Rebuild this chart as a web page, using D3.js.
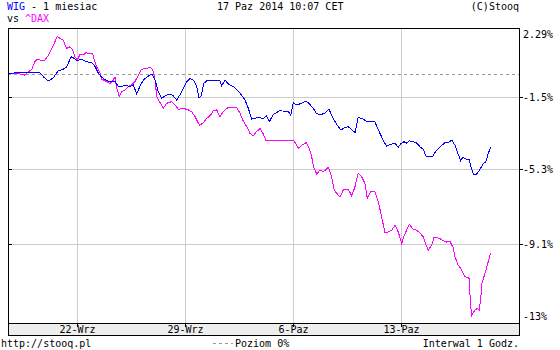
<!DOCTYPE html>
<html>
<head>
<meta charset="utf-8">
<script src="https://cdn.jsdelivr.net/npm/d3@7"></script>
<style>
body { margin: 0; background: #fff; }
text { font-family: 'DejaVu Sans Mono', monospace; font-size: 10px; }
</style>
</head>
<body>
<div id="chart"></div>
<script>
// x = trading days counted from Mon 22-Wrz (fraction = hour in session)
// y = change in %, log scale like stooq
const dayTicks = [0, 5, 10, 15];
const dayLabels = ['22-Wrz', '29-Wrz', '6-Paz', '13-Paz'];

const pctTicks = [2.29, -1.52, -5.34, -9.15, -13];
const pctLabels = ['2.29%', '-1.5%', '-5.3%', '-9.1%', '-13%'];

const wig = [
  [-3.13,-0.26],[-2.94,-0.21],[-2.62,-0.17],[-2.30,-0.19],[-2.02,-0.17],[-1.70,-0.19],
  [-1.54,-0.41],[-1.37,-0.59],[-1.23,-0.59],[-1.08,-0.46],[-0.85,-0.08],[-0.62,0.00],
  [-0.46,0.13],[-0.26,0.69],[-0.12,0.60],[0,0.47],[0.23,0.55],[0.46,0.42],[0.74,0.33],
  [0.85,0.14],[1.00,-0.22],[1.16,-0.44],[1.39,-0.63],[1.62,-0.68],[1.77,-0.64],
  [1.92,-0.95],[2.08,-0.95],[2.23,-0.86],[2.46,-0.95],[2.62,-0.86],[2.77,-1.35],
  [2.93,-0.91],[3.08,-0.59],[3.31,-0.37],[3.47,-0.26],[3.62,-0.59],[3.77,-1.22],
  [3.93,-1.58],[4.08,-1.45],[4.31,-1.35],[4.46,-1.45],[4.62,-1.67],[4.77,-1.40],
  [4.93,-1.04],[5.08,-0.68],[5.24,-0.50],[5.39,-0.59],[5.55,-0.95],[5.65,-1.53],
  [5.74,-1.49],[5.88,-0.77],[6.01,-0.63],[6.62,-0.63],[6.70,-0.91],[6.85,-0.59],
  [7.01,-0.81],[7.24,-0.95],[7.55,-1.31],[7.78,-1.67],[7.93,-2.12],[8.09,-2.70],
  [8.24,-2.66],[8.39,-2.61],[8.62,-2.66],[8.78,-2.53],[8.90,-2.84],[9.09,-2.44],
  [9.39,-2.25],[9.78,-2.30],[9.89,-2.48],[10.01,-1.82],[10.17,-1.94],[10.40,-1.85],
  [10.60,-1.72],[10.75,-1.88],[10.93,-2.12],[11.09,-2.42],[11.32,-2.44],[11.47,-2.39],
  [11.66,-2.17],[11.78,-2.48],[11.94,-2.84],[12.09,-3.11],[12.21,-3.28],[12.40,-3.14],
  [12.55,-3.11],[12.71,-3.25],[12.86,-3.42],[13.01,-2.61],[13.17,-2.66],[13.43,-2.84],
  [13.78,-2.84],[13.94,-3.28],[14.09,-3.63],[14.17,-3.86],[14.33,-4.13],[14.56,-4.02],
  [14.71,-3.99],[14.86,-4.20],[14.97,-4.02],[15.12,-3.90],[15.25,-3.97],[15.37,-3.85],
  [15.55,-3.90],[15.71,-3.97],[15.86,-4.16],[16.02,-4.30],[16.13,-4.65],[16.25,-4.69],
  [16.45,-4.69],[16.60,-4.38],[16.79,-4.17],[17.02,-3.95],[17.17,-3.95],[17.33,-3.81],
  [17.48,-4.08],[17.63,-4.55],[17.74,-4.90],[17.84,-4.72],[18.02,-4.82],[18.14,-4.82],
  [18.22,-5.21],[18.33,-5.60],[18.48,-5.60],[18.64,-5.34],[18.79,-5.03],[18.91,-4.95],
  [19.02,-4.51],[19.13,-4.20]
];

const dax = [
  [-3.13,-0.26],[-2.85,-0.21],[-2.62,-0.26],[-2.39,-0.32],[-2.24,-0.15],[-2.08,-0.01],
  [-1.93,0.43],[-1.82,0.54],[-1.62,0.49],[-1.50,0.46],[-1.31,0.76],[-1.16,1.12],
  [-1.04,1.44],[-0.90,1.81],[-0.77,1.71],[-0.62,1.62],[-0.54,1.32],[-0.46,1.15],
  [-0.31,1.24],[-0.18,1.06],[-0.08,0.68],[0.03,0.51],[0.15,0.81],[0.30,0.79],
  [0.43,0.91],[0.61,0.87],[0.74,0.84],[0.81,0.51],[0.92,0.14],[1.08,-0.22],
  [1.16,-0.54],[1.39,-0.68],[1.54,-0.77],[1.69,-0.59],[1.77,-0.41],[1.85,-1.04],
  [1.97,-1.49],[2.08,-1.22],[2.23,-1.13],[2.38,-0.95],[2.54,-0.86],[2.69,-0.68],
  [2.85,-0.32],[3.00,0.00],[3.23,0.05],[3.39,0.11],[3.51,0.00],[3.62,-0.59],
  [3.70,-1.49],[3.85,-1.81],[4.00,-2.12],[4.16,-1.85],[4.39,-1.76],[4.54,-1.94],
  [4.70,-2.17],[4.93,-2.12],[5.16,-2.21],[5.31,-2.30],[5.47,-2.57],[5.67,-3.02],
  [5.82,-2.93],[6.01,-2.66],[6.19,-2.48],[6.31,-2.25],[6.47,-2.21],[6.62,-2.57],
  [6.77,-2.30],[7.01,-2.06],[7.39,-2.06],[7.55,-2.39],[7.67,-2.75],[7.86,-3.11],
  [8.01,-3.46],[8.16,-3.58],[8.30,-3.38],[8.47,-3.20],[8.62,-3.49],[8.75,-3.85],
  [9.39,-3.84],[10.04,-3.84],[10.24,-4.25],[10.40,-4.08],[10.60,-3.95],[10.75,-4.25],
  [10.86,-4.69],[10.94,-5.21],[11.09,-5.59],[11.24,-5.38],[11.40,-5.47],[11.63,-5.24],
  [11.78,-5.73],[11.90,-6.41],[12.01,-6.58],[12.17,-6.76],[12.32,-6.41],[12.55,-6.37],
  [12.71,-6.72],[12.86,-6.24],[13.01,-5.55],[13.17,-5.73],[13.32,-6.07],[13.43,-6.84],
  [13.59,-6.50],[13.78,-6.50],[13.94,-7.02],[14.09,-7.78],[14.25,-8.59],[14.40,-8.54],
  [14.56,-8.45],[14.71,-8.20],[14.86,-8.54],[15.02,-9.12],[15.12,-8.75],[15.25,-8.45],
  [15.37,-8.15],[15.55,-8.42],[15.71,-8.45],[15.86,-8.59],[16.02,-8.79],[16.14,-9.20],
  [16.25,-9.45],[16.40,-9.20],[16.51,-8.83],[16.65,-8.83],[16.79,-8.88],[16.94,-8.98],
  [17.10,-9.05],[17.25,-9.00],[17.33,-9.20],[17.40,-9.30],[17.48,-9.78],[17.63,-10.19],
  [17.79,-10.43],[17.94,-10.76],[18.14,-10.84],[18.20,-12.14],[18.26,-12.62],[18.40,-12.38],
  [18.51,-12.30],[18.60,-12.38],[18.67,-11.82],[18.73,-11.08],[18.87,-10.59],[19.02,-10.02],
  [19.13,-9.58]
];

let width = 560;
let height = 350;
let plot = { left: 8, right: 519, top: 28, bottom: 323 };

let svg = d3.select('#chart')
    .append('svg')
    .attr('width', width)
    .attr('height', height)
    .style('display', 'block')
    .style('background', '#fff');

let xScale = d3.scaleLinear()
    .domain([-3.175, 20.44])
    .range([plot.left, plot.right]);

let yLog = d3.scaleLog()
    .domain([0.87, 1.0229])
    .range([plot.bottom, plot.top]);
const yScale = p => yLog(1 + p / 100);

const px = v => Math.round(v) + 0.5;

// date band under the plot
svg.append('rect')
    .attr('x', plot.left + 0.5)
    .attr('y', plot.bottom + 0.5)
    .attr('width', plot.right - plot.left)
    .attr('height', 12)
    .attr('fill', '#eeeeee')
    .attr('stroke', '#000');

// vertical grid + date labels
dayTicks.forEach((d, i) => {
  let x = px(xScale(d));
  svg.append('line')
    .attr('x1', x).attr('x2', x)
    .attr('y1', plot.top).attr('y2', plot.bottom)
    .attr('stroke', '#cccccc');
  svg.append('line')
    .attr('x1', x).attr('x2', x)
    .attr('y1', plot.bottom).attr('y2', plot.bottom + 4)
    .attr('stroke', '#000');
  svg.append('text')
    .attr('x', x)
    .attr('y', plot.bottom + 10)
    .attr('text-anchor', 'middle')
    .text(dayLabels[i]);
});

// horizontal grid + percent labels
pctTicks.forEach((p, i) => {
  let y = px(yScale(p));
  if (i > 0 && i < pctTicks.length - 1) {
    svg.append('line')
      .attr('x1', plot.left).attr('x2', plot.right)
      .attr('y1', y).attr('y2', y)
      .attr('stroke', '#cccccc');
    svg.append('line')
      .attr('x1', plot.left).attr('x2', plot.left + 4)
      .attr('y1', y).attr('y2', y)
      .attr('stroke', '#000');
    svg.append('line')
      .attr('x1', plot.right).attr('x2', plot.right + 4)
      .attr('y1', y).attr('y2', y)
      .attr('stroke', '#000');
  }
  let ty = Math.min(Math.max(y + 3.5, plot.top + 10), plot.bottom - 3);
  svg.append('text')
    .attr('x', plot.right + 4)
    .attr('y', ty)
    .text(pctLabels[i]);
});

// poziom 0% = start level
let y0 = px(yScale(wig[0][1]));
svg.append('line')
    .attr('x1', plot.left).attr('x2', plot.right)
    .attr('y1', y0).attr('y2', y0)
    .attr('stroke', '#999999')
    .attr('stroke-dasharray', '3,3');

// plot frame
svg.append('rect')
    .attr('x', plot.left + 0.5)
    .attr('y', plot.top + 0.5)
    .attr('width', plot.right - plot.left)
    .attr('height', plot.bottom - plot.top)
    .attr('fill', 'none')
    .attr('stroke', '#000');

let line = d3.line()
    .x(d => xScale(d[0]))
    .y(d => yScale(d[1]));

svg.append('path')
    .datum(dax)
    .attr('fill', 'none')
    .attr('stroke', '#ff00ff')
    .attr('stroke-width', 1)
    .attr('shape-rendering', 'crispEdges')
    .attr('d', line);

svg.append('path')
    .datum(wig)
    .attr('fill', 'none')
    .attr('stroke', '#0000ff')
    .attr('stroke-width', 1)
    .attr('shape-rendering', 'crispEdges')
    .attr('d', line);

// header
let h1 = svg.append('text').attr('x', 7).attr('y', 10);
h1.append('tspan').attr('fill', '#0000ff').text('WIG');
h1.append('tspan').text(' - 1 miesiac');

svg.append('text').attr('x', 217).attr('y', 10).text('17 Paz 2014 10:07 CET');
svg.append('text').attr('x', 519).attr('y', 10).attr('text-anchor', 'end').text('(C)Stooq');

let h2 = svg.append('text').attr('x', 7).attr('y', 22);
h2.append('tspan').text('vs  ');
h2.append('tspan').attr('fill', '#ff00ff').text('^DAX');

// footer
svg.append('text').attr('x', 1).attr('y', 347).text('http://stooq.pl');
svg.append('line')
    .attr('x1', 213).attr('x2', 233)
    .attr('y1', 343.5).attr('y2', 343.5)
    .attr('stroke', '#999999')
    .attr('stroke-dasharray', '3,3');
svg.append('text').attr('x', 235).attr('y', 347).text('Poziom 0%');
svg.append('text').attr('x', 519).attr('y', 347).attr('text-anchor', 'end').text('Interwal 1 Godz.');
</script>
</body>
</html>
